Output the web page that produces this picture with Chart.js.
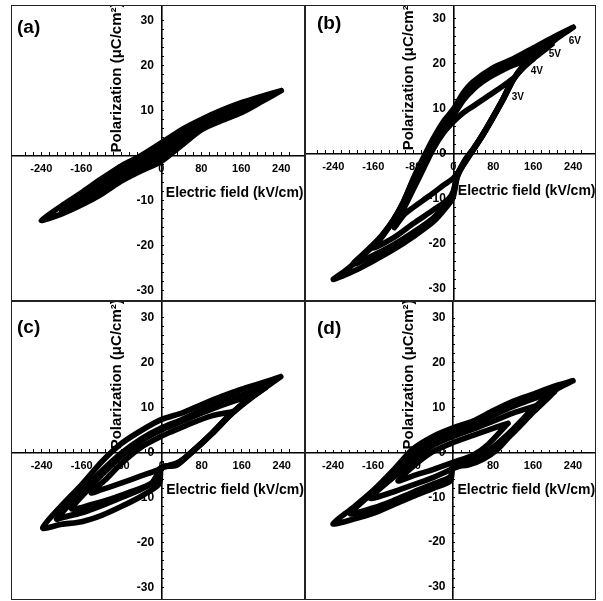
<!DOCTYPE html>
<html><head><meta charset="utf-8">
<script src="https://cdn.jsdelivr.net/npm/chart.js@4.4.1/dist/chart.umd.min.js"></script>
<style>
html,body{margin:0;padding:0;background:#fff;width:603px;height:601px;overflow:hidden;position:relative;}
canvas{position:absolute;}
</style></head><body>
<canvas id="ca" width="294" height="296" style="left:11px;top:5px"></canvas>
<canvas id="cb" width="291" height="296" style="left:305px;top:5px"></canvas>
<canvas id="cc" width="294" height="299" style="left:11px;top:301px"></canvas>
<canvas id="cd" width="291" height="299" style="left:305px;top:301px"></canvas>
<script>
// ---------- tick labels / texts ----------
const xTickLabels = [-240, -160, -80, 0, 80, 160, 240];
const yTickLabels = [-30, -20, -10, 0, 10, 20, 30];
const xTitle = 'Electric field (kV/cm)';
const yTitle = 'Polarization (\u03bcC/cm\u00b2)';
const panelLetters = ['(a)', '(b)', '(c)', '(d)'];
const bVoltLabels = ['6V', '5V', '4V', '3V'];
const bVoltE = [243, 203, 167, 129];
const bVoltP = [25.0, 22.1, 18.3, 12.5];

// ---------- panel (a) loops: [E (kV/cm), P (uC/cm2)] ----------
const loopA6 = [[240,14.4],[200,13.1],[160,11.7],[120,10.0],[80,8.0],[40,5.7],[0,2.8],[-40,0.0],[-80,-2.3],[-120,-5.2],[-160,-8.3],[-200,-11.2],[-240,-14.4],[-200,-13.0],[-160,-11.0],[-120,-8.6],[-80,-5.7],[-40,-3.4],[0,-1.3],[40,2.2],[80,5.7],[120,7.7],[160,9.5],[200,11.9],[240,14.4]];
const loopA5 = [[200,12.5],[160,11.0],[120,9.3],[80,7.3],[40,5.0],[0,2.2],[-40,-0.6],[-80,-3.0],[-120,-5.9],[-160,-9.0],[-200,-12.2],[-160,-10.4],[-120,-8.0],[-80,-5.2],[-40,-2.9],[0,-0.7],[40,2.6],[80,6.0],[120,8.1],[160,10.0],[200,12.5]];
const loopA4 = [[160,10.5],[120,8.8],[80,6.8],[40,4.4],[0,1.7],[-40,-1.0],[-80,-3.6],[-120,-6.5],[-160,-9.7],[-120,-7.4],[-80,-4.7],[-40,-2.4],[0,-0.2],[40,2.9],[80,6.3],[120,8.4],[160,10.5]];
const loopA3 = [[120,8.6],[80,6.6],[40,4.1],[0,1.3],[-40,-1.4],[-80,-4.1],[-120,-7.0],[-80,-4.4],[-40,-2.0],[0,0.2],[40,3.3],[80,6.5],[120,8.6]];

// ---------- panel (b) loops ----------
const loopB6 = [[240,28.0],[200,25.8],[160,23.4],[120,21.0],[80,19.0],[40,15.9],[20,13.4],[0,9.8],[-20,7.0],[-40,3.3],[-60,-1.0],[-80,-5.6],[-100,-10.8],[-120,-14.8],[-140,-17.9],[-160,-20.6],[-180,-22.6],[-200,-24.6],[-220,-26.4],[-240,-28.0],[-200,-26.2],[-160,-23.9],[-120,-21.4],[-80,-18.5],[-40,-15.2],[-10,-11.4],[0,-9.6],[8,-5.2],[25,-1.6],[40,0.8],[60,4.2],[80,8.0],[100,12.0],[120,16.4],[140,19.5],[160,21.3],[180,23.0],[200,24.9],[220,26.5],[240,28.0]];
const loopB5 = [[200,24.6],[160,22.5],[120,20.3],[80,18.0],[40,14.9],[20,12.4],[0,9.0],[-20,6.2],[-40,2.8],[-60,-1.4],[-80,-6.0],[-100,-11.0],[-120,-14.9],[-140,-17.9],[-160,-20.3],[-180,-22.4],[-200,-24.6],[-160,-22.7],[-120,-20.4],[-80,-17.6],[-40,-14.4],[-10,-10.8],[0,-9.0],[8,-5.0],[25,-1.4],[40,0.9],[60,4.3],[80,8.1],[100,12.1],[120,16.4],[140,19.3],[160,21.1],[180,22.8],[200,24.6]];
const loopB4 = [[160,21.0],[120,19.6],[80,17.4],[60,16.0],[40,14.2],[20,11.8],[0,8.4],[-20,5.6],[-40,2.2],[-60,-2.0],[-80,-6.6],[-100,-11.2],[-120,-15.0],[-140,-18.2],[-160,-21.0],[-120,-18.8],[-80,-15.6],[-40,-12.6],[-10,-10.2],[0,-8.4],[8,-4.8],[25,-1.2],[40,1.0],[60,4.4],[80,8.2],[100,12.2],[120,16.4],[140,19.0],[160,21.0]];
const loopB3 = [[118,16.5],[100,15.0],[80,13.5],[60,12.0],[40,10.5],[20,9.0],[0,7.0],[-20,4.5],[-40,1.0],[-60,-3.5],[-80,-8.0],[-100,-12.5],[-118,-16.5],[-100,-13.8],[-80,-12.0],[-60,-10.4],[-40,-8.8],[-20,-7.1],[0,-5.5],[20,-2.6],[40,0.8],[60,4.4],[80,8.2],[100,12.2],[118,16.5]];

// ---------- panel (c) loops ----------
const loopC6 = [[238,16.8],[200,15.4],[160,14.0],[120,12.4],[80,10.6],[40,8.7],[0,7.3],[-40,4.9],[-80,2.0],[-120,-2.1],[-160,-7.2],[-200,-11.8],[-238,-16.8],[-200,-16.0],[-160,-15.4],[-120,-14.0],[-80,-12.0],[-40,-9.7],[-5,-7.0],[0,-3.4],[30,-2.9],[60,0.1],[100,4.1],[130,7.5],[160,10.6],[200,13.8],[238,16.8]];
const loopC5 = [[210,14.6],[160,12.7],[120,11.2],[80,9.3],[40,7.2],[0,5.4],[-40,3.0],[-80,-0.2],[-120,-4.2],[-160,-8.6],[-210,-14.8],[-200,-14.5],[-160,-13.4],[-120,-11.8],[-80,-10.0],[-40,-8.1],[-10,-6.2],[0,-3.4],[30,-2.7],[60,0.0],[100,4.1],[140,8.6],[180,12.2],[210,14.6]];
const loopC4 = [[180,12.6],[140,11.2],[100,9.6],[60,7.8],[20,5.9],[0,5.0],[-40,2.6],[-80,-0.8],[-120,-5.0],[-150,-8.6],[-180,-12.6],[-140,-11.6],[-100,-10.3],[-60,-8.7],[-20,-6.8],[0,-3.4],[30,-2.6],[60,0.0],[100,4.1],[140,8.6],[180,12.6]];
const loopC3 = [[141,9.0],[100,8.1],[60,6.5],[20,4.6],[0,3.6],[-40,1.2],[-80,-2.4],[-110,-5.8],[-141,-9.0],[-120,-8.3],[-80,-6.8],[-40,-5.2],[-10,-4.0],[0,-3.4],[30,-2.4],[60,0.0],[100,4.2],[141,9.0]];

// ---------- panel (d) loops ----------
const loopD6 = [[240,16.0],[200,14.7],[160,13.0],[120,11.4],[80,9.3],[40,7.0],[0,5.5],[-40,3.6],[-80,0.8],[-120,-4.0],[-160,-8.5],[-200,-12.3],[-240,-15.9],[-200,-14.9],[-160,-13.6],[-120,-11.7],[-80,-9.8],[-40,-8.0],[-5,-6.3],[0,-3.3],[30,-2.8],[60,-1.5],[90,0.8],[120,4.6],[150,8.6],[180,11.8],[210,14.3],[240,16.0]];
const loopD5 = [[205,13.8],[160,12.0],[120,10.3],[80,8.3],[40,6.2],[0,4.6],[-40,2.6],[-80,-0.4],[-120,-4.6],[-160,-8.8],[-205,-13.6],[-160,-12.4],[-120,-10.8],[-80,-8.9],[-40,-7.1],[-5,-5.4],[0,-3.0],[40,-2.0],[80,0.4],[120,4.4],[160,9.0],[205,13.8]];
const loopD4 = [[165,10.4],[120,8.8],[80,7.0],[40,5.2],[0,3.6],[-40,1.6],[-80,-1.8],[-120,-5.6],[-165,-10.2],[-120,-8.8],[-80,-7.2],[-40,-5.6],[0,-3.6],[40,-1.8],[80,1.2],[120,5.2],[165,10.4]];
const loopD3 = [[110,6.5],[80,5.4],[40,3.8],[0,2.2],[-40,0.2],[-70,-2.2],[-110,-6.3],[-80,-5.2],[-40,-3.8],[0,-2.2],[40,-0.6],[70,1.8],[110,6.5]];

// ---------- rendering ----------
const FONT = "'Liberation Sans', Arial, Helvetica, sans-serif";
const toPts = arr => arr.map(p => ({x: p[0], y: p[1]}));

function loopSets(filled, hollow) {
  const sets = [];
  filled.forEach(l => sets.push({data: toPts(l), showLine: true, borderColor: '#000',
    borderWidth: 5.6, pointRadius: 0, tension: 0.25, borderJoinStyle: 'round', borderCapStyle: 'round'}));
  hollow.forEach(l => {
    sets.push({data: toPts(l), showLine: true, borderColor: '#000', borderWidth: 6,
      pointRadius: 0, tension: 0.25, borderJoinStyle: 'round'});
    sets.push({data: toPts(l), showLine: true, borderColor: '#fff', borderWidth: 1.6,
      borderDash: [1.6, 2.4], pointRadius: 0, tension: 0.25});
  });
  return sets;
}

const zeroPad = s => { s.paddingTop = 0; s.paddingBottom = 0; s.paddingLeft = 0; s.paddingRight = 0; };
const xTickFont = {family: FONT, size: 11, weight: 'bold'};
const yTickFont = {family: FONT, size: 12, weight: 'bold'};

const panelDecor = {
  id: 'panelDecor',
  beforeDatasetsDraw(chart, args, o) {
    const ctx = chart.ctx;
    const ax = chart.scales.x.getPixelForValue(0), ay = chart.scales.y.getPixelForValue(0);
    ctx.save();
    ctx.fillStyle = '#000';
    ctx.textBaseline = 'middle';
    ctx.textAlign = 'left';
    ctx.font = 'bold 14px ' + FONT;
    ctx.fillText(xTitle, ax + 4.5, ay + 38);
    ctx.translate(ax - 44.5, ay - 3);
    ctx.rotate(-Math.PI / 2);
    ctx.font = 'bold 15px ' + FONT;
    ctx.fillText(yTitle, 0, 0);
    ctx.restore();
  },
  afterDraw(chart, args, o) {
    const ctx = chart.ctx, ca = chart.chartArea;
    ctx.save();
    ctx.strokeStyle = '#222';
    ctx.lineWidth = 1;
    ctx.strokeRect(ca.left + 0.5, ca.top + 0.5, ca.right - ca.left - 1, ca.bottom - ca.top - 1);
    ctx.fillStyle = '#000';
    ctx.textBaseline = 'middle';
    ctx.textAlign = 'left';
    ctx.font = 'bold 19px ' + FONT;
    ctx.fillText(o.letter, ca.left + o.lx, ca.top + o.ly);
    if (o.volts) {
      ctx.font = 'bold 10px ' + FONT;
      ctx.textAlign = 'center';
      bVoltLabels.forEach((t, i) => {
        ctx.fillText(t, chart.scales.x.getPixelForValue(bVoltE[i]), chart.scales.y.getPixelForValue(bVoltP[i]));
      });
    }
    ctx.restore();
  }
};

function makeChart(id, filled, hollow, xr, yr, deco) {
  new Chart(document.getElementById(id), {
    type: 'scatter',
    data: {datasets: loopSets(filled, hollow)},
    options: {
      responsive: false, animation: false, events: [],
      layout: {padding: 0},
      plugins: {legend: {display: false}, tooltip: {enabled: false}, panelDecor: deco},
      scales: {
        x: {type: 'linear', min: xr[0], max: xr[1], position: {y: 0},
          afterBuildTicks: ax => { ax.ticks = xTickLabels.map(v => ({value: v})); },
          afterFit: zeroPad,
          grid: {display: false, drawOnChartArea: false, drawTicks: false},
          border: {display: true, color: '#000', width: 1.6},
          ticks: {padding: 7, font: xTickFont, color: '#000', maxRotation: 0, autoSkip: false}},
        xm: {type: 'linear', axis: 'x', min: xr[0], max: xr[1], position: {y: 0},
          afterFit: zeroPad,
          grid: {display: true, drawOnChartArea: false, drawTicks: true, tickLength: -3, tickColor: '#000', tickWidth: 1},
          border: {display: false},
          ticks: {display: false, stepSize: 16}},
        y: {type: 'linear', min: yr[0], max: yr[1], position: {x: 0},
          afterFit: zeroPad,
          grid: {display: true, drawOnChartArea: false, drawTicks: true, tickLength: -3, tickColor: '#000', tickWidth: 1},
          border: {display: true, color: '#000', width: 1.6},
          ticks: {display: false, stepSize: 2}},
        yl: {type: 'linear', axis: 'y', min: yr[0], max: yr[1], position: {x: -15},
          afterBuildTicks: ax => { ax.ticks = yTickLabels.map(v => ({value: v})); },
          afterFit: zeroPad,
          grid: {display: false, drawOnChartArea: false, drawTicks: false},
          border: {display: false},
          ticks: {padding: 0, font: yTickFont, color: '#000', autoSkip: false}}
      }
    },
    plugins: [panelDecor]
  });
}

makeChart('ca', [loopA6, loopA5, loopA4, loopA3], [], [-300.6, 287.4], [-32.3, 33.4],
  {letter: panelLetters[0], lx: 6, ly: 22.5});
makeChart('cb', [loopB6, loopB4, loopB3], [loopB5], [-296.6, 285.4], [-32.8, 32.95],
  {letter: panelLetters[1], lx: 12, ly: 18.5, volts: true});
makeChart('cc', [loopC6, loopC4, loopC3], [loopC5], [-301.4, 286.6], [-32.8, 33.6],
  {letter: panelLetters[2], lx: 6, ly: 26.5});
makeChart('cd', [loopD6, loopD4, loopD3], [loopD5], [-296, 286], [-32.9, 33.8],
  {letter: panelLetters[3], lx: 12, ly: 28});
</script>
</body></html>
